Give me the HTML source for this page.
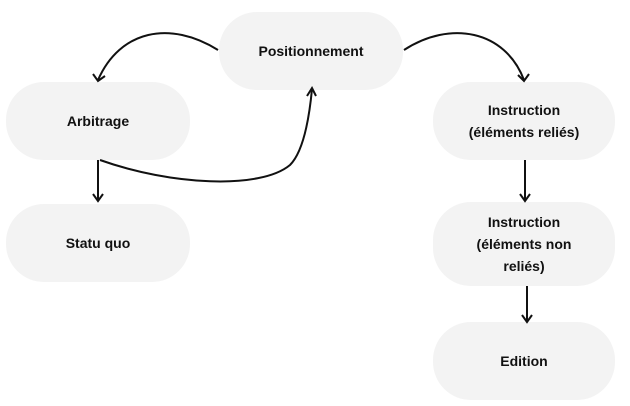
<!DOCTYPE html>
<html><head><style>
body{margin:0;width:630px;height:406px;background:#fff;position:relative;overflow:hidden;font-family:"Liberation Sans",sans-serif}
.n{position:absolute;background:#f3f3f3;border-radius:38px;display:flex;align-items:center;justify-content:center;text-align:center;font-weight:bold;font-size:14px;color:#111;line-height:22px}
svg{position:absolute;left:0;top:0}
</style></head><body>
<div class="n" style="left:219px;top:12px;width:184px;height:78px">Positionnement</div>
<div class="n" style="left:6px;top:82px;width:184px;height:78px">Arbitrage</div>
<div class="n" style="left:433px;top:82px;width:182px;height:78px">Instruction<br>(éléments reliés)</div>
<div class="n" style="left:6px;top:204px;width:184px;height:78px">Statu quo</div>
<div class="n" style="left:433px;top:202px;width:182px;height:84px">Instruction<br>(éléments non<br>reliés)</div>
<div class="n" style="left:433px;top:322px;width:182px;height:78px">Edition</div>
<svg width="630" height="406" fill="none" stroke="#111" stroke-width="2">
<path d="M218 50 C170 20 120 30 98 80"/><path d="M93 74 L98 81 L105 76"/>
<path d="M404 50 C450 20 505 30 524 80"/><path d="M518 75 L524 81 L529 74"/>
<path d="M98 160 L98 200"/><path d="M93 194 L98 201 L103 194"/>
<path d="M100 160 C170 185 260 190 290 165 C305 150 310 110 312 89"/><path d="M307 96 L312 88 L316 96"/>
<path d="M525 160 L525 200"/><path d="M520 194 L525 201 L530 194"/>
<path d="M527 286 L527 321"/><path d="M522 315 L527 322 L532 315"/>
</svg>
</body></html>
